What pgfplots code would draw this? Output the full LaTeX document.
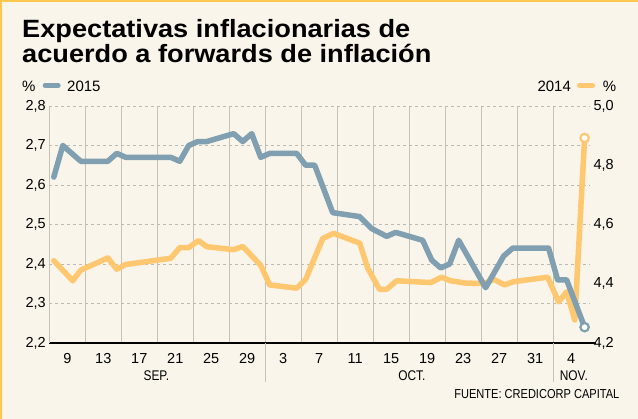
\documentclass[border=0pt]{standalone}
\usepackage{pgfplots}
\pgfplotsset{compat=1.18}
\usepackage{fontspec}
\setmainfont{Liberation Sans}
\definecolor{bg}{HTML}{F9F5EA}
\definecolor{bluel}{HTML}{809FB0}
\definecolor{orl}{HTML}{FFC870}
\definecolor{gridc}{HTML}{C6C2B9}
\definecolor{dashc}{HTML}{BDBAB2}
\definecolor{framec}{HTML}{FCC84E}

\pgfplotstableread{
x y
7.5 2.62
8.5 2.70
10.5 2.66
13.5 2.66
14.5 2.68
15.5 2.67
20.5 2.67
21.5 2.66
22.5 2.70
23.5 2.71
24.5 2.71
27.5 2.73
28.5 2.71
29.5 2.73
30.5 2.67
31.5 2.68
34.5 2.68
35.5 2.65
36.5 2.65
38.5 2.53
41.5 2.52
42.8 2.49
44.5 2.47
45.5 2.48
48.5 2.46
49.5 2.41
50.5 2.39
51.5 2.40
52.5 2.46
55.5 2.34
57.5 2.42
58.5 2.44
62.5 2.44
63.5 2.36
64.5 2.36
66.5 2.24
}\blue

\pgfplotstableread{
x y
7.5 4.478
9.6 4.41
10.5 4.446
13.5 4.487
14.5 4.449
15.5 4.465
20.5 4.486
21.5 4.522
22.5 4.522
23.6 4.546
24.5 4.525
27.5 4.515
28.5 4.526
30.5 4.462
31.5 4.396
34.5 4.385
35.5 4.415
37.4 4.553
38.6 4.570
41.5 4.537
42.4 4.452
43.7 4.381
44.5 4.381
45.6 4.410
49.4 4.404
50.6 4.422
51.6 4.410
53.3 4.402
55.4 4.401
56.4 4.415
57.6 4.396
58.6 4.407
62.4 4.422
63.6 4.339
64.5 4.373
65.4 4.278
66.5 4.892
}\orange

\begin{document}
\begin{tikzpicture}
\fill[bg] (0pt,0pt) rectangle (638pt,419pt);
\path[use as bounding box] (0pt,0pt) rectangle (638pt,419pt);
\draw[framec, line width=2pt] (1pt,0pt) -- (1pt,418pt) -- (638pt,418pt);

% title
\node[anchor=base west, inner sep=0] at (22pt,381pt) {\fontsize{25}{30}\selectfont\bfseries\scalebox{1.087}[1]{Expectativas inflacionarias de}};
\node[anchor=base west, inner sep=0] at (22pt,356pt) {\fontsize{25}{30}\selectfont\bfseries\scalebox{1.087}[1]{acuerdo a forwards de inflación}};

% legends
\node[anchor=base west, inner sep=0] at (22pt,327.5pt) {\fontsize{15}{18}\selectfont \%};
\draw[bluel, line width=5pt, line cap=round] (45.2pt,333.5pt) -- (58.2pt,333.5pt);
\node[anchor=base west, inner sep=0] at (67pt,327.5pt) {\fontsize{15}{18}\selectfont 2015};
\node[anchor=base west, inner sep=0] at (537.3pt,327.5pt) {\fontsize{15}{18}\selectfont 2014};
\draw[orl, line width=5pt, line cap=round] (579.5pt,333.5pt) -- (592.5pt,333.5pt);
\node[anchor=base west, inner sep=0] at (602.7pt,327.5pt) {\fontsize{15}{18}\selectfont \%};

% base axis: grid, labels
\begin{axis}[at={(49.3pt,76pt)}, anchor=south west, scale only axis,
  width=540.7pt, height=237pt,
  xmin=7, xmax=67.1, ymin=2.2, ymax=2.8,
  axis x line*=bottom, axis y line*=left,
  x axis line style={black, line width=1.6pt, -},
  y axis line style={gridc, line width=0.9pt, -},
  major tick length=0pt, minor tick length=0pt,
  xtick={9,13,...,65},
  xticklabels={9,13,17,21,25,29,3,7,11,15,19,23,27,31,4},
  minor xtick={11,15,...,63},
  xminorgrids=true,
  minor x grid style={gridc, line width=0.9pt},
  ytick={2.2,2.3,...,2.8},
  ymajorgrids=true,
  major y grid style={dashc, line width=0.8pt, dash pattern=on 3pt off 3pt},
  yticklabel style={font=\fontsize{14.5}{17}\selectfont, /pgf/number format/.cd, fixed, fixed zerofill, precision=1, use comma, assume math mode=true},
  xticklabel style={font=\fontsize{14.5}{17}\selectfont, anchor=base, yshift=-20.3pt},
  clip=false,
]
\draw[gridc, line width=0.9pt] (axis cs:31,2.2) -- ++(0pt,-39pt);
\draw[gridc, line width=0.9pt] (axis cs:63,2.2) -- ++(0pt,-39pt);
\draw[black, line width=1.6pt] (axis cs:67.1,2.2) -- ++(6pt,0pt);
\node[anchor=base, inner sep=0] at (axis cs:18.9,2.2) [yshift=-37.5pt] {\fontsize{14}{17}\selectfont\scalebox{0.85}[1]{SEP.}};
\node[anchor=base, inner sep=0] at (axis cs:47.3,2.2) [yshift=-37.5pt] {\fontsize{14}{17}\selectfont\scalebox{0.85}[1]{OCT.}};
\node[anchor=base, inner sep=0] at (axis cs:65.3,2.2) [yshift=-37.5pt] {\fontsize{14}{17}\selectfont\scalebox{0.85}[1]{NOV.}};
\node[anchor=base east, inner sep=0] at (axis cs:67.1,2.2) [xshift=29.5pt, yshift=-56pt] {\fontsize{13}{15}\selectfont\scalebox{0.85}[1]{FUENTE: CREDICORP CAPITAL}};
\end{axis}

% right axis with 2014
\begin{axis}[at={(49.3pt,76pt)}, anchor=south west, scale only axis,
  width=540.7pt, height=237pt,
  xmin=7, xmax=67.1, ymin=4.2, ymax=5.0,
  hide x axis,
  axis y line*=right,
  y axis line style={draw=none},
  major tick length=0pt,
  ytick={4.2,4.4,...,5.0},
  yticklabel style={font=\fontsize{14.5}{17}\selectfont, /pgf/number format/.cd, fixed, fixed zerofill, precision=1, use comma, assume math mode=true},
  clip=false,
]
\addplot[orl, line width=5.5pt, line join=round, line cap=round] table[x=x,y=y] {\orange};
\addplot[only marks, mark=*, mark size=4.2pt, mark options={fill=white, draw=orl, line width=2.2pt}] coordinates {(66.5,4.892)};
\end{axis}

% left axis with 2015 on top
\begin{axis}[at={(49.3pt,76pt)}, anchor=south west, scale only axis,
  width=540.7pt, height=237pt,
  xmin=7, xmax=67.1, ymin=2.2, ymax=2.8,
  hide axis, clip=false,
]
\addplot[bluel, line width=5.5pt, line join=round, line cap=round] table[x=x,y=y] {\blue};
\addplot[only marks, mark=*, mark size=4.2pt, mark options={fill=white, draw=bluel, line width=2.2pt}] coordinates {(66.5,2.24)};
\end{axis}
\end{tikzpicture}
\end{document}
